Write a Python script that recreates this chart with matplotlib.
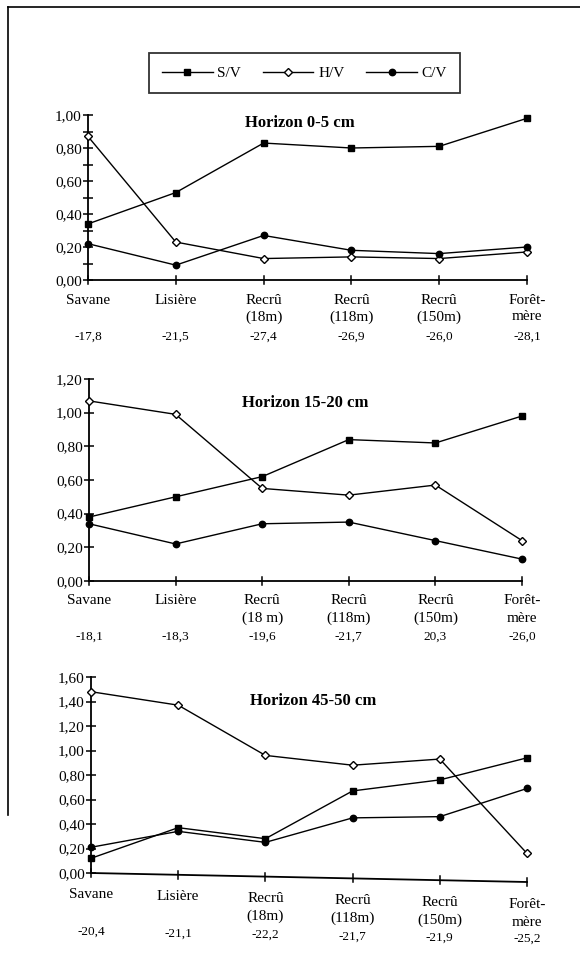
import matplotlib
matplotlib.use("Agg")
import matplotlib.pyplot as plt
from matplotlib.lines import Line2D
import matplotlib.transforms as mtrans

plt.rcParams['font.family'] = ['Liberation Serif', 'DejaVu Serif']

# ---------------- data ----------------
categories = ["Savane", "Lisière", "Recrû\n(18m)", "Recrû\n(118m)", "Recrû\n(150m)", "Forêt-\nmère"]
categories_2 = ["Savane", "Lisière", "Recrû\n(18 m)", "Recrû\n(118m)", "Recrû\n(150m)", "Forêt-\nmère"]
titles = ["Horizon 0-5 cm", "Horizon 15-20 cm", "Horizon 45-50 cm"]
series_names = ["S/V", "H/V", "C/V"]

sv_1 = [0.34, 0.53, 0.83, 0.80, 0.81, 0.98]
hv_1 = [0.87, 0.23, 0.13, 0.14, 0.13, 0.17]
cv_1 = [0.22, 0.09, 0.27, 0.18, 0.16, 0.20]

sv_2 = [0.38, 0.50, 0.62, 0.84, 0.82, 0.98]
hv_2 = [1.07, 0.99, 0.55, 0.51, 0.57, 0.24]
cv_2 = [0.34, 0.22, 0.34, 0.35, 0.24, 0.13]

sv_3 = [0.12, 0.37, 0.28, 0.67, 0.76, 0.94]
hv_3 = [1.48, 1.37, 0.96, 0.88, 0.93, 0.16]
cv_3 = [0.21, 0.34, 0.25, 0.45, 0.46, 0.69]

iso_1 = ["-17,8", "-21,5", "-27,4", "-26,9", "-26,0", "-28,1"]
iso_2 = ["-18,1", "-18,3", "-19,6", "-21,7", "20,3", "-26,0"]
iso_3 = ["-20,4", "-21,1", "-22,2", "-21,7", "-21,9", "-25,2"]

y_max = [1.0, 1.2, 1.6]

# ---------------- layout (pixels) ----------------
W, H = 580, 959
fig = plt.figure(figsize=(W / 100, H / 100), dpi=100)

def fx(px):
    return px / W

def fy(py):
    return 1 - py / H

panels = [
    dict(x0=88, x1=527, y0=280, ytop=115, title_xy=(300, 123), rows=(300, 317, 337), slant=0, minor=True,
         sv=sv_1, hv=hv_1, cv=cv_1, iso=iso_1, cats=categories, ymax=y_max[0], title=titles[0]),
    dict(x0=89, x1=522, y0=581, ytop=379, title_xy=(305, 403), rows=(601, 618, 637), slant=0, minor=False,
         sv=sv_2, hv=hv_2, cv=cv_2, iso=iso_2, cats=categories_2, ymax=y_max[1], title=titles[1]),
    dict(x0=91, x1=527, y0=873, ytop=677, title_xy=(313, 701), rows=(895, 913, 932), slant=9, minor=False,
         sv=sv_3, hv=hv_3, cv=cv_3, iso=iso_3, cats=categories, ymax=y_max[2], title=titles[2]),
]

styles = {
    "S/V": dict(marker='s', markersize=4.8, markerfacecolor='black', markeredgecolor='black'),
    "H/V": dict(marker='D', markersize=4.0, markerfacecolor='white', markeredgecolor='black', markeredgewidth=1.0),
    "C/V": dict(marker='o', markersize=4.6, markerfacecolor='black', markeredgecolor='black'),
}

lw = 1.0
for p in panels:
    ax = fig.add_axes([fx(p['x0']), fy(p['y0']), fx(p['x1'] - p['x0']), (p['y0'] - p['ytop']) / H])
    n = len(p['cats'])
    xs = list(range(n))
    ax.set_xlim(0, n - 1)
    ax.set_ylim(0, p['ymax'])
    for name, vals in zip(series_names, [p['sv'], p['hv'], p['cv']]):
        ax.plot(xs, vals, color='black', linewidth=lw, clip_on=False, zorder=3, **styles[name])
    for s in ['top', 'right', 'bottom']:
        ax.spines[s].set_visible(False)
    ax.spines['left'].set_linewidth(1.3)
    ax.patch.set_visible(False)

    nt = int(round(p['ymax'] / 0.2))
    yt = [i * 0.2 for i in range(nt + 1)]
    ax.set_yticks(yt)
    ax.set_yticklabels([f"{v:.2f}".replace('.', ',') for v in yt], fontsize=11)
    ax.tick_params(axis='y', direction='inout', length=7, width=1.1, pad=1)
    if p['minor']:
        ax.set_yticks([i * 0.1 for i in range(int(round(p['ymax'] / 0.1)) + 1)], minor=True)
        ax.tick_params(axis='y', which='minor', direction='inout', length=7, width=1.1)
    ax.set_xticks([])

    # x axis (possibly slanted, as in the scanned original)
    ppx = p['ymax'] / (p['y0'] - p['ytop'])  # data units per pixel
    drop = p['slant'] * ppx
    ax.plot([0, n - 1], [0, -drop], color='black', linewidth=1.3, clip_on=False, zorder=2)
    for i in xs:
        yb = -drop * i / (n - 1)
        ax.plot([i, i], [yb - 4 * ppx, yb + 4 * ppx], color='black', linewidth=1.1, clip_on=False)

    # title
    fig.text(fx(p['title_xy'][0]), fy(p['title_xy'][1]), p['title'], ha='center', va='center',
             fontsize=12, fontweight='bold')

    # category labels and isotope values
    tr = mtrans.blended_transform_factory(ax.transData, fig.transFigure)
    r1, r2, r3 = p['rows']
    for i, (c, v) in enumerate(zip(p['cats'], p['iso'])):
        off = p['slant'] * i / (n - 1)
        parts = c.split("\n")
        ax.text(i, fy(r1 + off), parts[0], transform=tr, ha='center', va='center', fontsize=11)
        if len(parts) > 1:
            ax.text(i, fy(r2 + off), parts[1], transform=tr, ha='center', va='center', fontsize=11)
        ax.text(i, fy(r3 + off * 0.8), v, transform=tr, ha='center', va='center', fontsize=9.5)

# legend
handles = [Line2D([0], [0], color='black', linewidth=lw, **styles[nm]) for nm in series_names]
leg = fig.legend(handles, series_names, loc='center', bbox_to_anchor=(fx(304.5), fy(73)), ncol=3,
                 frameon=True, fancybox=False, edgecolor='black', fontsize=11, handlelength=3.3,
                 handletextpad=0.3, columnspacing=1.45, borderpad=0.85)
leg.get_frame().set_linewidth(1.3)

# scanned page frame
fig.add_artist(Line2D([fx(8), fx(8)], [fy(7), fy(815)], color='black', linewidth=1.2))
fig.add_artist(Line2D([fx(8), fx(580)], [fy(7), fy(7)], color='black', linewidth=1.2))

fig.savefig("out.png", dpi=100)
